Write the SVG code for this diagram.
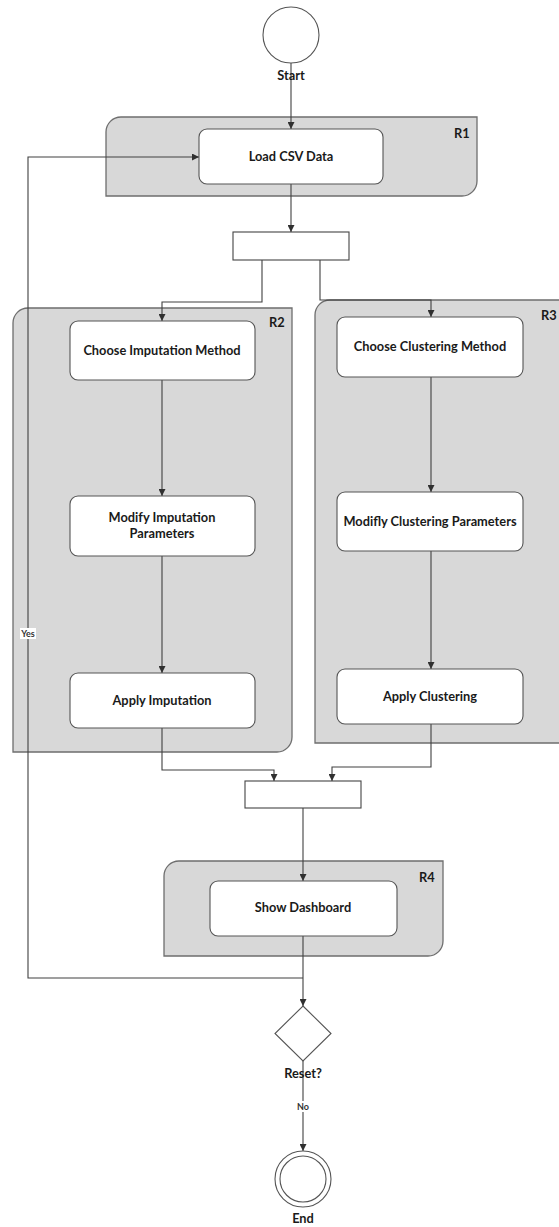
<svg xmlns="http://www.w3.org/2000/svg" width="559" height="1227" viewBox="0 0 559 1227">
  <style>
    .region { fill: #d8d8d8; stroke: #6e6e6e; stroke-width: 1.3; }
    .action { fill: #ffffff; stroke: #555555; stroke-width: 1.1; }
    .bar { fill: #ffffff; stroke: #444444; stroke-width: 1.1; }
    .flow { fill: none; stroke: #404040; stroke-width: 1.1; }
    .lbl { font-family: Lato, "Open Sans", "Liberation Sans", sans-serif; font-weight: bold; font-size: 12.8px; fill: #1a1a1a; text-anchor: middle; }
    .rid { font-family: Lato, "Liberation Sans", sans-serif; font-weight: bold; font-size: 12.8px; fill: #1a1a1a; }
    .small { font-family: Lato, "Liberation Sans", sans-serif; font-weight: bold; font-size: 9px; fill: #333333; text-anchor: middle; }
    .state { fill: #ffffff; stroke: #555555; stroke-width: 1.1; }
  </style>
  <defs>
    <marker id="arrow" viewBox="0 0 8 8" refX="8" refY="4" markerWidth="7" markerHeight="7" markerUnits="userSpaceOnUse" orient="auto">
      <path d="M0,0 L8,4 L0,8 Z" fill="#303030"/>
    </marker>
  </defs>

  <rect width="559" height="1227" fill="#ffffff"/>

  <!-- partitions -->
  <g id="region-r1">
    <path class="region" d="M106,196 V132 A15,15 0 0 1 121,117 H477 V181 A15,15 0 0 1 462,196 Z"/>
    <text class="rid" x="454" y="138">R1</text>
  </g>
  <g id="region-r2">
    <path class="region" d="M13,752 V323 A15,15 0 0 1 28,308 H292 V737 A15,15 0 0 1 277,752 Z"/>
    <text class="rid" x="269" y="327">R2</text>
  </g>
  <g id="region-r3">
    <path class="region" d="M315,743 V315 A15,15 0 0 1 330,300 H560 V743 Z"/>
    <text class="rid" x="541" y="320">R3</text>
  </g>
  <g id="region-r4">
    <path class="region" d="M164,956 V876 A15,15 0 0 1 179,861 H443 V941 A15,15 0 0 1 428,956 Z"/>
    <text class="rid" x="419" y="882">R4</text>
  </g>

  <!-- connectors -->
  <g id="connectors">
    <path class="flow" d="M291,63 V129" marker-end="url(#arrow)"/>
    <path class="flow" d="M291,184 V232" marker-end="url(#arrow)"/>
    <path class="flow" d="M262,260 V302 H162 V321" marker-end="url(#arrow)"/>
    <path class="flow" d="M320,260 V300 H431 V317" marker-end="url(#arrow)"/>
    <path class="flow" d="M162,380 V496" marker-end="url(#arrow)"/>
    <path class="flow" d="M162,556 V673" marker-end="url(#arrow)"/>
    <path class="flow" d="M431,377 V492" marker-end="url(#arrow)"/>
    <path class="flow" d="M431,551 V669" marker-end="url(#arrow)"/>
    <path class="flow" d="M162,728 V770 H274 V781" marker-end="url(#arrow)"/>
    <path class="flow" d="M431,724 V767 H332 V781" marker-end="url(#arrow)"/>
    <path class="flow" d="M303,808 V881" marker-end="url(#arrow)"/>
    <path class="flow" d="M303,936 V1006" marker-end="url(#arrow)"/>
    <path class="flow" d="M303,978 H28 V157 H199" marker-end="url(#arrow)"/>
    <path class="flow" d="M303,1061 V1151" marker-end="url(#arrow)"/>
    <rect x="20" y="628" width="16" height="11" fill="#ffffff"/>
    <text class="small" x="28" y="637">Yes</text>
    <rect x="296" y="1101" width="14" height="11" fill="#ffffff"/>
    <text class="small" x="303" y="1110">No</text>
  </g>

  <!-- nodes -->
  <g id="start">
    <circle class="state" cx="291" cy="35" r="28"/>
    <text class="lbl" x="291" y="80">Start</text>
  </g>
  <g id="load-csv">
    <rect class="action" x="199" y="129" width="184" height="55" rx="8"/>
    <text class="lbl" x="291" y="161">Load CSV Data</text>
  </g>
  <g id="fork">
    <rect class="bar" x="233" y="232" width="116" height="28"/>
  </g>
  <g id="choose-imputation">
    <rect class="action" x="70" y="321" width="185" height="59" rx="8"/>
    <text class="lbl" x="162" y="355">Choose Imputation Method</text>
  </g>
  <g id="modify-imputation">
    <rect class="action" x="70" y="496" width="185" height="60" rx="8"/>
    <text class="lbl" x="162" y="522">Modify  Imputation</text>
    <text class="lbl" x="162" y="538">Parameters</text>
  </g>
  <g id="apply-imputation">
    <rect class="action" x="70" y="673" width="185" height="55" rx="8"/>
    <text class="lbl" x="162" y="705">Apply Imputation</text>
  </g>
  <g id="choose-clustering">
    <rect class="action" x="337" y="317" width="186" height="60" rx="8"/>
    <text class="lbl" x="430" y="351">Choose Clustering Method</text>
  </g>
  <g id="modify-clustering">
    <rect class="action" x="337" y="492" width="186" height="59" rx="8"/>
    <text class="lbl" x="430" y="526">Modifly Clustering Parameters</text>
  </g>
  <g id="apply-clustering">
    <rect class="action" x="337" y="669" width="186" height="55" rx="8"/>
    <text class="lbl" x="430" y="701">Apply Clustering</text>
  </g>
  <g id="join">
    <rect class="bar" x="245" y="781" width="116" height="27"/>
  </g>
  <g id="show-dashboard">
    <rect class="action" x="210" y="881" width="187" height="55" rx="8"/>
    <text class="lbl" x="303" y="912">Show Dashboard</text>
  </g>
  <g id="reset-decision">
    <path class="state" d="M303,1006 L331,1033.5 L303,1061 L275,1033.5 Z"/>
    <text class="lbl" x="303" y="1078">Reset?</text>
  </g>
  <g id="end">
    <circle class="state" cx="303" cy="1179" r="28"/>
    <circle class="state" cx="303" cy="1179" r="23"/>
    <text class="lbl" x="303" y="1223">End</text>
  </g>
</svg>
